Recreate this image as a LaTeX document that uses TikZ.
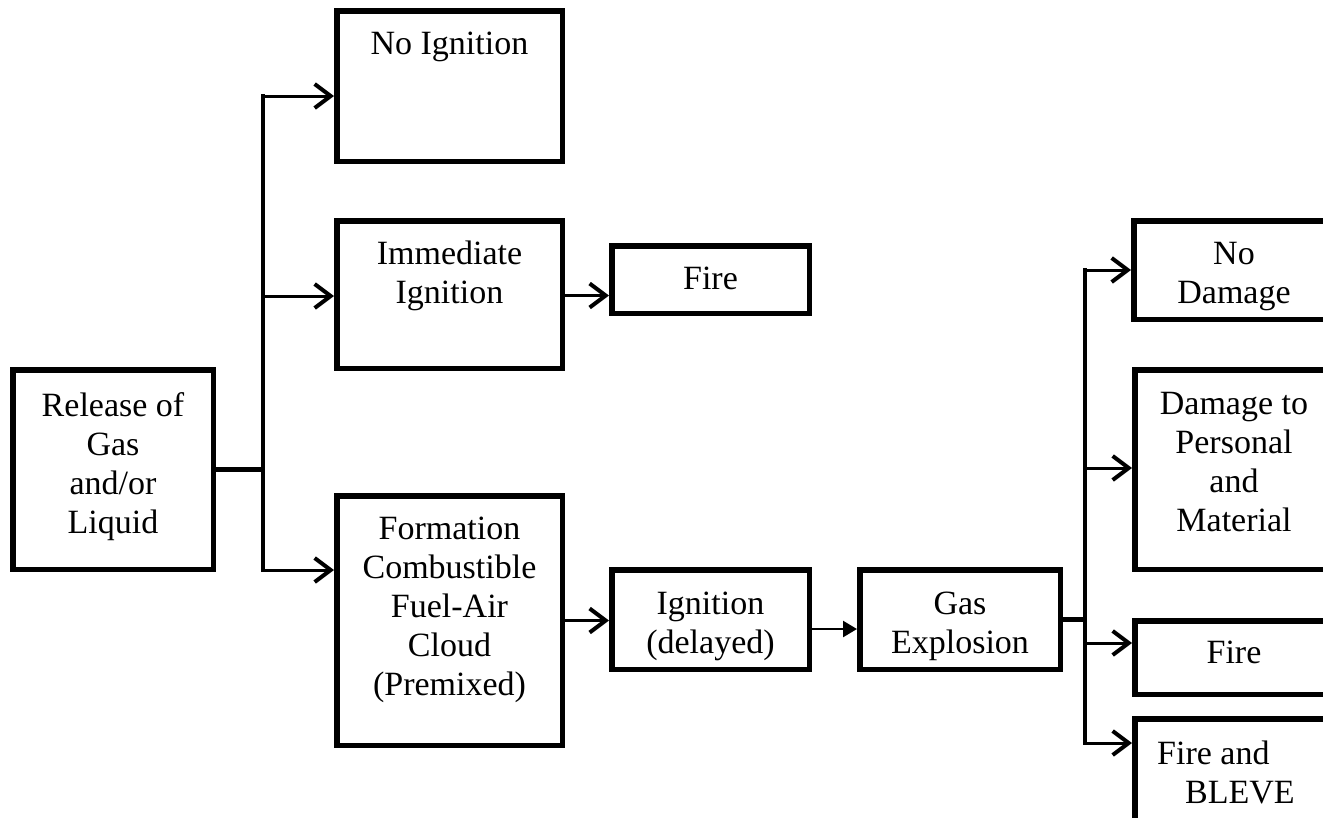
\documentclass[tikz,border=0pt]{standalone}
\usepackage{fontspec}
\setmainfont{Liberation Serif}
\usetikzlibrary{arrows.meta,calc}
\newcommand{\boxtxt}[1]{\parbox[t]{260pt}{\centering\fontsize{34}{39}\selectfont #1}}
\tikzset{
  box/.style={draw, line width=5.5pt, rectangle, inner sep=0pt},
  txt/.style={inner sep=0pt, anchor=base},
  arr/.style={line width=3pt, -{Straight Barb[length=16pt,width=24pt,line width=4pt]}},
  trunk/.style={line width=4.5pt, line cap=rect},
  thinarr/.style={line width=2.5pt, -{Triangle[length=14pt,width=16pt]}}
}
\begin{document}
\begin{tikzpicture}[x=1pt,y=-1pt]
\clip (0,0) rectangle (1323,817);
\useasboundingbox (0,0) rectangle (1323,817);
\fill[white] (0,0) rectangle (1323,817);

% boxes
\node[box, minimum width=200.5pt, minimum height=199.5pt] (rel) at (113,469.5) {};
\node[box, minimum width=225.5pt, minimum height=150.5pt] (noig) at (449.5,86) {};
\node[box, minimum width=225.5pt, minimum height=147.5pt] (imm) at (449.5,294.5) {};
\node[box, minimum width=197.5pt, minimum height=67.5pt] (fire1) at (710.5,279.5) {};
\node[box, minimum width=225.5pt, minimum height=249.5pt] (form) at (449.5,620.5) {};
\node[box, minimum width=197.5pt, minimum height=99.5pt] (ign) at (710.5,619.5) {};
\node[box, minimum width=200.5pt, minimum height=99.5pt] (gas) at (960,619.5) {};
\node[box, minimum width=200.5pt, minimum height=98.5pt] (nodam) at (1234,270) {};
\node[box, minimum width=199.5pt, minimum height=199.5pt] (dam) at (1234.5,469.5) {};
\node[box, minimum width=199.5pt, minimum height=73.5pt] (fire2) at (1234.5,657.5) {};
\node[box, minimum width=199.5pt, minimum height=112.5pt] (bleve) at (1234.5,775) {};

% texts
\node[txt] (rel-t) at (113,416) {\boxtxt{Release of\\Gas\\and/or\\Liquid}};
\node[txt] (noig-t) at (449.5,54) {\boxtxt{No Ignition}};
\node[txt] (imm-t) at (449.5,264) {\boxtxt{Immediate\\Ignition}};
\node[txt] (fire1-t) at (710.5,289) {\boxtxt{Fire}};
\node[txt] (form-t) at (449.5,539) {\boxtxt{Formation\\Combustible\\Fuel-Air\\Cloud\\(Premixed)}};
\node[txt] (ign-t) at (710.5,614) {\boxtxt{Ignition\\(delayed)}};
\node[txt] (gas-t) at (960,614) {\boxtxt{Gas\\Explosion}};
\node[txt] (nodam-t) at (1234,264) {\boxtxt{No\\Damage}};
\node[txt] (dam-t) at (1234,414) {\boxtxt{Damage to\\Personal\\and\\Material}};
\node[txt] (fire2-t) at (1234,663) {\boxtxt{Fire}};
\node[txt, anchor=base west] (bleve-t) at (1157,764) {\parbox[t]{170pt}{\raggedright\fontsize{34}{39}\selectfont Fire and\\\hspace*{28pt}BLEVE}};

% left trunk
\coordinate (tA) at (263,96);
\coordinate (tB) at (263,296);
\coordinate (tC) at (263,570);
\draw[trunk] (tA) -- (tC);
\draw[trunk] (rel.east) -- (rel.east -| tA);
\draw[arr] (tA) -- (tA -| noig.west);
\draw[arr] (tB) -- (tB -| imm.west);
\draw[arr] (tC) -- (tC -| form.west);

% middle
\draw[arr] ($(imm.east)+(0,1)$) -- ($(imm.east -| fire1.west)+(0,1)$);
\draw[arr] (form.east) -- (form.east -| ign.west);
\draw[thinarr] ($(ign.east)+(0,9.5)$) -- ($(ign.east -| gas.west)+(0,9.5)$);

% right trunk
\coordinate (rA) at (1085,270);
\coordinate (rB) at (1085,468);
\coordinate (rC) at (1085,643);
\coordinate (rD) at (1085,743);
\draw[trunk] (rA) -- (rD);
\draw[trunk] (gas.east) -- (gas.east -| rA);
\draw[arr] (rA) -- (rA -| nodam.west);
\draw[arr] (rB) -- (rB -| dam.west);
\draw[arr] (rC) -- (rC -| fire2.west);
\draw[arr] (rD) -- (rD -| bleve.west);
\end{tikzpicture}
\end{document}
